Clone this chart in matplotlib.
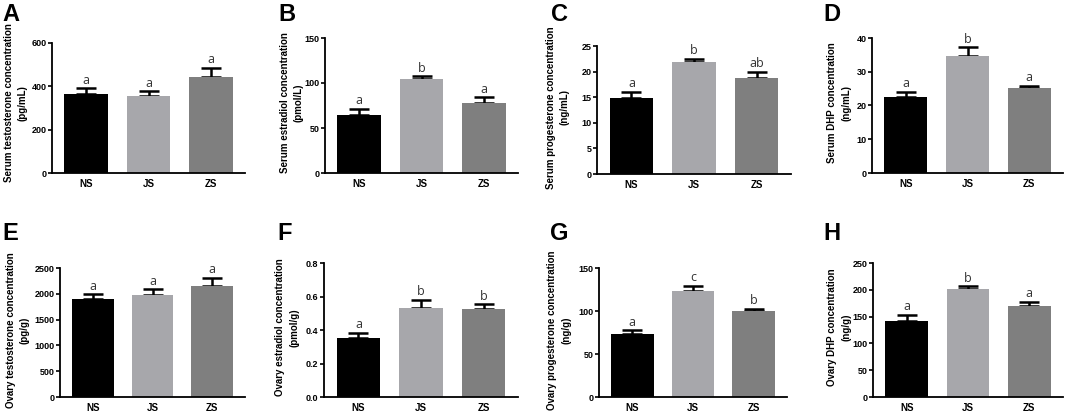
import numpy as np
import matplotlib
matplotlib.use('Agg')
import matplotlib.pyplot as plt

plt.rcParams['font.family'] = ['Liberation Sans', 'DejaVu Sans']

groups = ['NS', 'JS', 'ZS']
bar_colors = ['#000000', '#a7a7ab', '#7f7f7f']

serum_t = [366, 355, 443]
serum_t_err = [26, 23, 43]
serum_t_sig = ['a', 'a', 'a']

serum_e2 = [64, 104, 77.6]
serum_e2_err = [7, 3.5, 6.4]
serum_e2_sig = ['a', 'b', 'a']

serum_p = [14.9, 21.9, 18.8]
serum_p_err = [1.2, 0.6, 1.2]
serum_p_sig = ['a', 'b', 'ab']

serum_dhp = [22.5, 34.6, 25.1]
serum_dhp_err = [1.5, 2.6, 0.8]
serum_dhp_sig = ['a', 'b', 'a']

ovary_t = [1893, 1982, 2155]
ovary_t_err = [95, 102, 160]
ovary_t_sig = ['a', 'a', 'a']

ovary_e2 = [0.355, 0.534, 0.524]
ovary_e2_err = [0.030, 0.046, 0.030]
ovary_e2_sig = ['a', 'b', 'b']

ovary_p = [72.7, 123.8, 99.6]
ovary_p_err = [5.0, 5.8, 2.7]
ovary_p_sig = ['a', 'c', 'b']

ovary_dhp = [141.4, 202.2, 169.4]
ovary_dhp_err = [12.4, 4.4, 8.0]
ovary_dhp_sig = ['a', 'b', 'a']

W, H = 1065, 415
fig = plt.figure(figsize=(W / 100, H / 100), dpi=100)


def panel(box, letter, letter_xy, vals, errs, sig, ymax, step, fmt, ylabel, label_dx, label_y=0.52):
    x0, x1, y0, y1 = box
    ax = fig.add_axes([x0 / W, 1 - y1 / H, (x1 - x0) / W, (y1 - y0) / H])
    x = np.arange(len(groups))
    ax.bar(x, vals, width=0.7, color=bar_colors, zorder=2)
    ax.errorbar(x, vals, yerr=[np.zeros(3), errs], fmt='none', ecolor='black',
                elinewidth=1.8, capsize=7, capthick=1.8, zorder=1)
    for xi, v, e, s in zip(x, vals, errs, sig):
        ax.text(xi, v + e + ymax * 0.012, s, ha='center', va='bottom',
                fontsize=9, color='#333333', family=['Open Sans', 'DejaVu Sans'])
    ax.set_xlim(-0.55, 2.55)
    ax.set_ylim(0, ymax)
    ticks = np.arange(0, ymax + step / 2, step)
    ax.set_yticks(ticks)
    ax.set_yticklabels([fmt.format(t) for t in ticks], fontsize=6.5, fontweight='bold')
    ax.set_xticks(x)
    ax.set_xticklabels(groups, fontsize=7, fontweight='bold')
    ax.tick_params(axis='x', length=0, pad=4)
    ax.tick_params(axis='y', length=3, width=1.2, pad=1)
    for sp in ['top', 'right']:
        ax.spines[sp].set_visible(False)
    for sp in ['left', 'bottom']:
        ax.spines[sp].set_linewidth(1.3)
    ax.set_ylabel(ylabel, fontsize=7, fontweight='bold', linespacing=1.45)
    # label x is the right edge of the rotated text block
    ax.yaxis.set_label_coords(label_dx / (x1 - x0), label_y)
    fig.text(letter_xy[0] / W, 1 - letter_xy[1] / H, letter, fontsize=17,
             fontweight='bold', ha='left', va='top')
    return ax


panel((52, 245, 43, 173), 'A', (2, 3), serum_t, serum_t_err, serum_t_sig, 600, 200, '{:.0f}',
      'Serum testosterone concentration\n(pg/mL)', -24, 0.54)
panel((325, 518, 38, 173), 'B', (278, 3), serum_e2, serum_e2_err, serum_e2_sig, 150, 50, '{:.0f}',
      'Serum estradiol concentration\n(pmol/L)', -21)
panel((597, 791, 46, 174), 'C', (551, 3), serum_p, serum_p_err, serum_p_sig, 25, 5, '{:.0f}',
      'Serum progesterone concentration\n(ng/mL)', -27)
panel((872, 1063, 38, 173), 'D', (823, 3), serum_dhp, serum_dhp_err, serum_dhp_sig, 40, 10, '{:.0f}',
      'Serum DHP concentration\n(ng/mL)', -21)
panel((60, 245, 268, 397), 'E', (2, 222), ovary_t, ovary_t_err, ovary_t_sig, 2500, 500, '{:.0f}',
      'Ovary testosterone concentration\n(pg/g)', -30)
panel((324, 518, 263, 397), 'F', (277, 222), ovary_e2, ovary_e2_err, ovary_e2_sig, 0.8, 0.2, '{:.1f}',
      'Ovary estradiol concentration\n(pmol/g)', -25)
panel((599, 787, 268, 397), 'G', (550, 222), ovary_p, ovary_p_err, ovary_p_sig, 150, 50, '{:.0f}',
      'Ovary progesterone concentration\n(ng/g)', -28)
panel((873, 1063, 263, 397), 'H', (823, 222), ovary_dhp, ovary_dhp_err, ovary_dhp_sig, 250, 50, '{:.0f}',
      'Ovary DHP concentration\n(ng/g)', -22)

fig.savefig('out.png', dpi=100)
